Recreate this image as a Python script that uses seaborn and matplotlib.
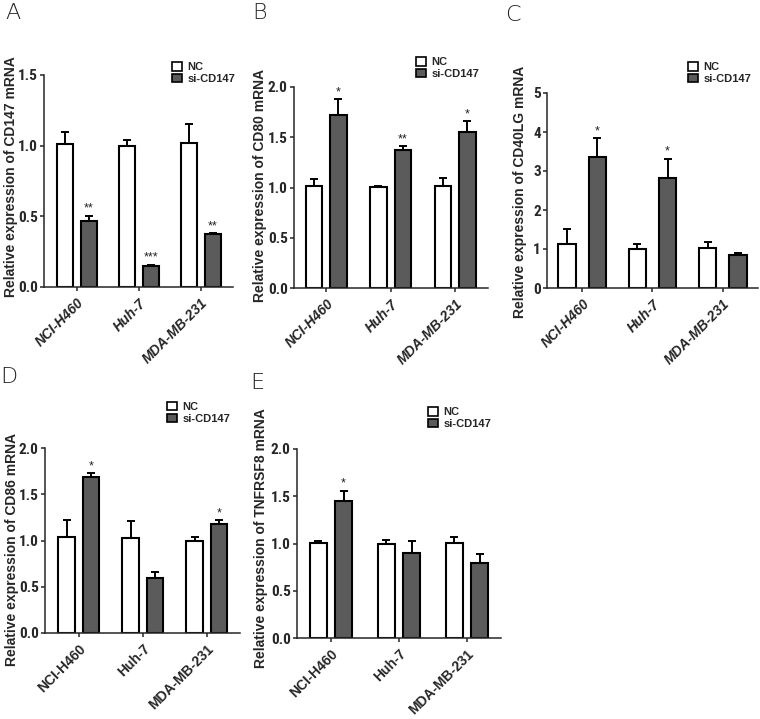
import matplotlib
matplotlib.use("Agg")
import matplotlib.pyplot as plt
from matplotlib import font_manager
from matplotlib.patches import Patch
import pandas as pd
import seaborn as sns

# cell lines and treatment groups
cells = ["NCI-H460", "Huh-7", "MDA-MB-231"]
groups = ["NC", "si-CD147"]

# values (mean, upper error) per panel
cd147_nc = [1.01, 1.00, 1.02]
cd147_nc_err = [0.09, 0.04, 0.13]
cd147_si = [0.465, 0.146, 0.373]
cd147_si_err = [0.04, 0.012, 0.008]
cd147_stars = ["**", "***", "**"]

cd80_nc = [1.01, 1.005, 1.01]
cd80_nc_err = [0.07, 0.01, 0.08]
cd80_si = [1.72, 1.37, 1.55]
cd80_si_err = [0.16, 0.04, 0.11]
cd80_stars = ["*", "**", "*"]

cd40lg_nc = [1.13, 1.01, 1.02]
cd40lg_nc_err = [0.39, 0.11, 0.15]
cd40lg_si = [3.37, 2.82, 0.84]
cd40lg_si_err = [0.47, 0.50, 0.05]
cd40lg_stars = ["*", "*", ""]

cd86_nc = [1.035, 1.03, 1.00]
cd86_nc_err = [0.19, 0.18, 0.04]
cd86_si = [1.69, 0.60, 1.18]
cd86_si_err = [0.04, 0.06, 0.04]
cd86_stars = ["*", "", "*"]

tnfrsf8_nc = [1.007, 1.00, 1.007]
tnfrsf8_nc_err = [0.015, 0.04, 0.057]
tnfrsf8_si = [1.45, 0.90, 0.79]
tnfrsf8_si_err = [0.11, 0.13, 0.10]
tnfrsf8_stars = ["*", "", ""]

palette = {"NC": "white", "si-CD147": "#5b5b5b"}

W, H = 760, 719


def px_rect(l, t, r, b):
    return [l / W, 1 - b / H, (r - l) / W, (b - t) / H]


# layout for each panel (pixel positions measured on the reference)
panels = [
    dict(letter="A", letter_xy=(5, 3), rect=(44, 75, 233, 287), xlim=(-0.53, 2.52),
         ylim=(0, 1.5), yticks=[0, 0.5, 1.0, 1.5], fmt="{:.1f}", gene="CD147",
         nc=cd147_nc, nc_err=cd147_nc_err, si=cd147_si, si_err=cd147_si_err,
         stars=cd147_stars, italic=True, width=0.77, gap=0.32,
         label_xy=(11, 177), legend_xy=(172, 62)),
    dict(letter="B", letter_xy=(252, 3), rect=(294, 87, 488, 288), xlim=(-0.5, 2.51),
         ylim=(0, 2.0), yticks=[0, 0.5, 1.0, 1.5, 2.0], fmt="{:.1f}", gene="CD80",
         nc=cd80_nc, nc_err=cd80_nc_err, si=cd80_si, si_err=cd80_si_err,
         stars=cd80_stars, italic=True, width=0.76, gap=0.33,
         label_xy=(260, 185), legend_xy=(416, 57)),
    dict(letter="C", letter_xy=(505, 5), rect=(547, 93, 758, 288), xlim=(-0.5, 2.5),
         ylim=(0, 5), yticks=[0, 1, 2, 3, 4, 5], fmt="{:.0f}", gene="CD40LG",
         nc=cd40lg_nc, nc_err=cd40lg_nc_err, si=cd40lg_si, si_err=cd40lg_si_err,
         stars=cd40lg_stars, italic=True, width=0.86, gap=0.42,
         label_xy=(520, 192), legend_xy=(688, 62)),
    dict(letter="D", letter_xy=(0, 367), rect=(45, 448, 240, 633), xlim=(-0.53, 2.52),
         ylim=(0, 2.0), yticks=[0, 0.5, 1.0, 1.5, 2.0], fmt="{:.1f}", gene="CD86",
         nc=cd86_nc, nc_err=cd86_nc_err, si=cd86_si, si_err=cd86_si_err,
         stars=cd86_stars, italic=False, width=0.76, gap=0.32,
         label_xy=(12, 550), legend_xy=(167, 402)),
    dict(letter="E", letter_xy=(250, 373), rect=(297, 449, 501, 638), xlim=(-0.5, 2.5),
         ylim=(0, 2.0), yticks=[0, 0.5, 1.0, 1.5, 2.0], fmt="{:.1f}", gene="TNFRSF8",
         nc=tnfrsf8_nc, nc_err=tnfrsf8_nc_err, si=tnfrsf8_si, si_err=tnfrsf8_si_err,
         stars=tnfrsf8_stars, italic=False, width=0.74, gap=0.32,
         label_xy=(261, 538), legend_xy=(428, 407)),
]

sns.set_style("ticks")
plt.rcParams["font.family"] = ["Liberation Sans", "DejaVu Sans"]

# the y tick numbers are set in a narrow bold face; use one if it is installed
installed = {f.name for f in font_manager.fontManager.ttflist}
tick_kw = dict(family="Liberation Sans", fontsize=10)
for name in ["Liberation Sans Narrow", "Roboto Condensed", "Open Sans Condensed"]:
    if name in installed:
        tick_kw = dict(family=name, fontsize=11)
        break

fig = plt.figure(figsize=(W / 100, H / 100), dpi=100)

for p in panels:
    ax = fig.add_axes(px_rect(*p["rect"]))
    df = pd.DataFrame({
        "cell": cells * 2,
        "group": [groups[0]] * 3 + [groups[1]] * 3,
        "value": p["nc"] + p["si"],
    })
    sns.barplot(data=df, x="cell", y="value", hue="group", order=cells,
                hue_order=groups, palette=palette, errorbar=None, width=p["width"],
                gap=p["gap"], edgecolor="black", linewidth=1.5, legend=False, ax=ax)

    # upward error bars + significance marks
    for bars, means, errs in zip(ax.containers, [p["nc"], p["si"]], [p["nc_err"], p["si_err"]]):
        xs = [b.get_x() + b.get_width() / 2 for b in bars]
        ax.errorbar(xs, means, yerr=[[0] * 3, errs], fmt="none", ecolor="black",
                    elinewidth=1.4, capsize=2.8, capthick=1.4, zorder=1)
    for b, m, e, s in zip(ax.containers[1], p["si"], p["si_err"], p["stars"]):
        if s:
            ax.annotate(s, (b.get_x() + b.get_width() / 2, m + e), xytext=(0, 5),
                        textcoords="offset points", ha="center", va="center",
                        fontsize=9, color="#222222")

    ax.set_xlim(*p["xlim"])
    ax.set_ylim(*p["ylim"])
    ax.set_yticks(p["yticks"])
    ax.set_yticklabels([p["fmt"].format(v) for v in p["yticks"]], weight="bold", **tick_kw)
    ax.set_xticks(range(len(cells)))
    ax.set_xticklabels(cells, rotation=45, ha="right", va="top", rotation_mode="anchor",
                       weight="bold", fontsize=10,
                       style="italic" if p["italic"] else "normal")
    ax.tick_params(axis="y", length=3, width=1.1, pad=1.5)
    ax.tick_params(axis="x", length=3, width=1.1, pad=3.5)
    sns.despine(ax=ax)
    for side in ["left", "bottom"]:
        ax.spines[side].set_linewidth(1.1)
    ax.set_xlabel("")
    ax.set_ylabel(f"Relative expression of {p['gene']} mRNA", fontsize=10,
                  weight="bold", va="center")
    l, t, r, b = p["rect"]
    lx, ly = p["label_xy"]
    ax.yaxis.set_label_coords((lx - l) / (r - l), (b - ly) / (b - t))

    handles = [Patch(facecolor=palette[g], edgecolor="black", linewidth=1.2) for g in groups]
    gx, gy = p["legend_xy"]
    ax.legend(handles, groups, loc="upper left", bbox_to_anchor=(gx / W, 1 - gy / H),
              bbox_transform=fig.transFigure, frameon=False, borderpad=0,
              borderaxespad=0, handlelength=0.9, handleheight=0.8,
              handletextpad=0.5, labelspacing=0.15,
              prop={"weight": "bold", "size": 8})

    fx, fy = p["letter_xy"]
    fig.text(fx / W, 1 - fy / H, p["letter"], fontsize=16, va="top", ha="left",
             family=["DejaVu Sans"], weight="light")

fig.savefig("out.png", dpi=100)
